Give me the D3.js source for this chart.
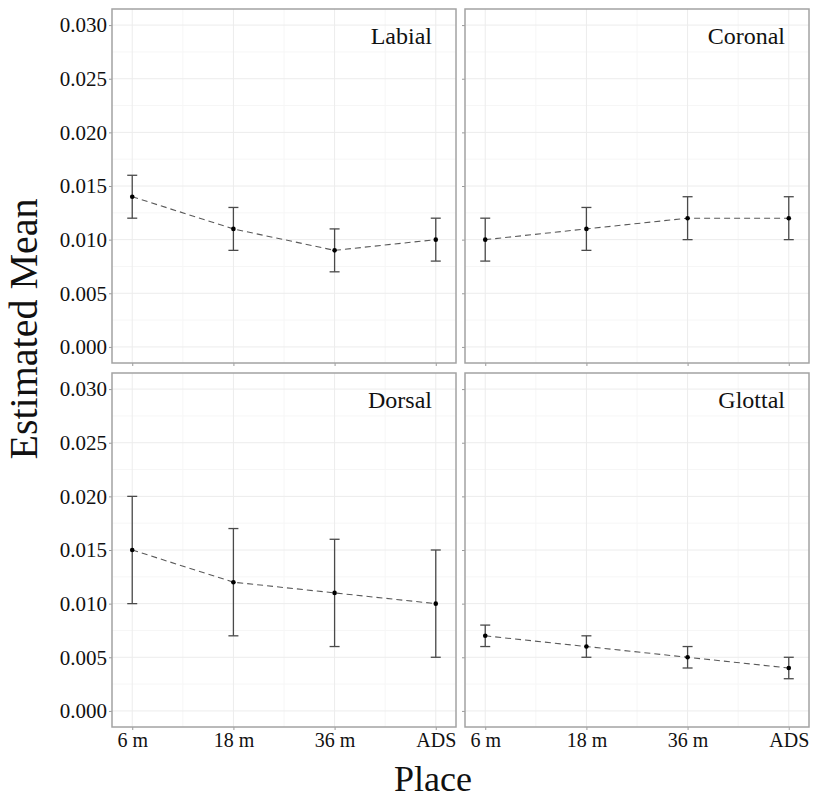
<!DOCTYPE html>
<meta charset="utf-8">
<style>
body { margin: 0; background: #fff; }
svg text { font-family: "Liberation Serif", "DejaVu Serif", serif; fill: #111; }
.frame { fill: none; stroke: #a3a3a3; stroke-width: 1.5px; }
.grid-major line { stroke: #ececec; stroke-width: 1px; }
.grid-minor line { stroke: #f6f6f6; stroke-width: 1px; }
.tick line { stroke: #9a9a9a; }
.mean-line { fill: none; stroke: #5a5a5a; stroke-width: 1.1px; stroke-dasharray: 6,4; }
.err { stroke: #4a4a4a; stroke-width: 1.3px; }
</style>
<svg width="813" height="798"></svg>
<script src="https://cdn.jsdelivr.net/npm/d3@7"></script>
<script>
// categories
var places = ["6 m", "18 m", "36 m", "ADS"];
var panelNames = ["Labial", "Coronal", "Dorsal", "Glottal"];
var yTicks = [0, 0.005, 0.010, 0.015, 0.020, 0.025, 0.030];

// estimated means and interval bounds, one array per panel
var labialMean  = [0.014, 0.011, 0.009, 0.010];
var labialLow   = [0.012, 0.009, 0.007, 0.008];
var labialHigh  = [0.016, 0.013, 0.011, 0.012];

var coronalMean = [0.010, 0.011, 0.012, 0.012];
var coronalLow  = [0.008, 0.009, 0.010, 0.010];
var coronalHigh = [0.012, 0.013, 0.014, 0.014];

var dorsalMean  = [0.015, 0.012, 0.011, 0.010];
var dorsalLow   = [0.010, 0.007, 0.006, 0.005];
var dorsalHigh  = [0.020, 0.017, 0.016, 0.015];

var glottalMean = [0.007, 0.006, 0.005, 0.004];
var glottalLow  = [0.006, 0.005, 0.004, 0.003];
var glottalHigh = [0.008, 0.007, 0.006, 0.005];

var series = [
  [labialMean, labialLow, labialHigh],
  [coronalMean, coronalLow, coronalHigh],
  [dorsalMean, dorsalLow, dorsalHigh],
  [glottalMean, glottalLow, glottalHigh]
];

var serif = "Liberation Serif, DejaVu Serif, serif";
var svg = d3.select("svg");

// panel layout (2 x 2 facets)
var panelW = 344, panelH = 354;
var colX = [112, 465], rowY = [9, 373];

var x = d3.scalePoint().domain(places).range([0, panelW]).padding(0.2);
var y = d3.scaleLinear().domain([-0.0015, 0.0315]).range([panelH, 0]);

var minorY = d3.range(0.0025, 0.031, 0.005);
var minorX = places.slice(1).map(function (p, i) {
  return (x(places[i]) + x(p)) / 2;
});

panelNames.forEach(function (name, k) {
  var col = k % 2, row = Math.floor(k / 2);
  var g = svg.append("g")
      .attr("transform", "translate(" + colX[col] + "," + rowY[row] + ")");

  var rows = places.map(function (p, i) {
    return { place: p, mean: series[k][0][i], low: series[k][1][i], high: series[k][2][i] };
  });

  // grid
  var gm = g.append("g").attr("class", "grid-minor");
  gm.selectAll(".hy").data(minorY).enter().append("line")
      .attr("x1", 0).attr("x2", panelW)
      .attr("y1", function (d) { return y(d); }).attr("y2", function (d) { return y(d); });
  gm.selectAll(".vx").data(minorX).enter().append("line")
      .attr("y1", 0).attr("y2", panelH)
      .attr("x1", function (d) { return d; }).attr("x2", function (d) { return d; });

  var gM = g.append("g").attr("class", "grid-major");
  gM.selectAll(".hy").data(yTicks).enter().append("line")
      .attr("x1", 0).attr("x2", panelW)
      .attr("y1", function (d) { return y(d); }).attr("y2", function (d) { return y(d); });
  gM.selectAll(".vx").data(places).enter().append("line")
      .attr("y1", 0).attr("y2", panelH)
      .attr("x1", function (d) { return x(d); }).attr("x2", function (d) { return x(d); });

  // axes: labels only on the outer edges
  var yAxis = d3.axisLeft(y).tickValues(yTicks).tickSize(3).tickPadding(2)
      .tickFormat(col === 0 ? d3.format(".3f") : "");
  var ya = g.append("g").call(yAxis)
      .attr("font-family", serif).attr("font-size", 21);
  ya.select(".domain").remove();

  var xAxis = d3.axisBottom(x).tickSize(3).tickPadding(3)
      .tickFormat(row === 1 ? null : "");
  var xa = g.append("g").attr("transform", "translate(0," + panelH + ")").call(xAxis)
      .attr("font-family", serif).attr("font-size", 20);
  xa.select(".domain").remove();

  // dashed line through means
  var line = d3.line()
      .x(function (d) { return x(d.place); })
      .y(function (d) { return y(d.mean); });
  g.append("path").datum(rows).attr("class", "mean-line").attr("d", line);

  // error bars
  var eb = g.selectAll(".eb").data(rows).enter().append("g").attr("class", "err");
  eb.append("line")
      .attr("x1", function (d) { return x(d.place); }).attr("x2", function (d) { return x(d.place); })
      .attr("y1", function (d) { return y(d.low); }).attr("y2", function (d) { return y(d.high); });
  ["low", "high"].forEach(function (b) {
    eb.append("line")
        .attr("x1", function (d) { return x(d.place) - 5; }).attr("x2", function (d) { return x(d.place) + 5; })
        .attr("y1", function (d) { return y(d[b]); }).attr("y2", function (d) { return y(d[b]); });
  });

  g.selectAll(".pt").data(rows).enter().append("circle")
      .attr("cx", function (d) { return x(d.place); })
      .attr("cy", function (d) { return y(d.mean); })
      .attr("r", 2.3)
      .attr("fill", "#000");

  // facet label inside the panel
  g.append("text")
      .attr("x", panelW - 24).attr("y", 35)
      .attr("text-anchor", "end")
      .style("font-size", "24px")
      .text(name);

  g.append("rect").attr("class", "frame")
      .attr("width", panelW).attr("height", panelH);
});

// axis titles
svg.append("text")
    .attr("transform", "translate(37,329) rotate(-90)")
    .attr("text-anchor", "middle")
    .style("font-size", "40px")
    .text("Estimated Mean");

svg.append("text")
    .attr("x", 433).attr("y", 791)
    .attr("text-anchor", "middle")
    .style("font-size", "36px")
    .text("Place");
</script>
